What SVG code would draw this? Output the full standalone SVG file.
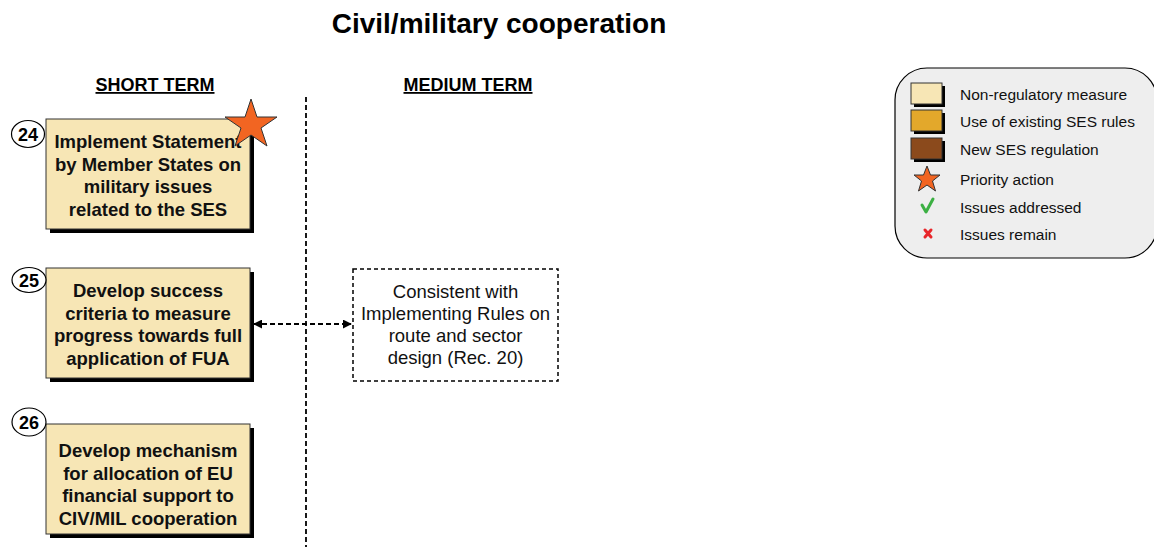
<svg xmlns="http://www.w3.org/2000/svg" width="1154" height="547" viewBox="0 0 1154 547">
<style>
.title{font-family:"Liberation Sans",Arial,sans-serif;font-weight:bold;font-size:28px;fill:#000}
.head{font-family:"Liberation Sans",Arial,sans-serif;font-weight:bold;font-size:18px;fill:#000;text-decoration:underline}
.bt{font-family:"Liberation Sans",Arial,sans-serif;font-weight:bold;font-size:18.5px;fill:#111;text-anchor:middle}
.dt{font-family:"Liberation Sans",Arial,sans-serif;font-size:18.5px;fill:#111;text-anchor:middle}
.num{font-family:"Liberation Sans",Arial,sans-serif;font-weight:bold;font-size:18px;fill:#000;text-anchor:middle}
.lt{font-family:"Liberation Sans",Arial,sans-serif;font-size:15.5px;fill:#111}
.box{fill:#f7e6b5;stroke:#333;stroke-width:1}
.shadow{fill:#000}
.circ{fill:#fff;stroke:#000;stroke-width:1.2}
.star{fill:#f26522;stroke:#333;stroke-width:1}
.dash{fill:none;stroke:#000;stroke-width:1.8;stroke-dasharray:5,3}
</style>
<defs>
<marker id="ah" viewBox="0 0 10 10" refX="9" refY="5" markerWidth="5" markerHeight="5" orient="auto-start-reverse">
<path d="M0,0 L10,5 L0,10 z" fill="#000"/>
</marker>
</defs>

<text class="title" x="499" y="33" text-anchor="middle">Civil/military cooperation</text>
<text class="head" x="155" y="91" text-anchor="middle">SHORT TERM</text>
<text class="head" x="468" y="91" text-anchor="middle">MEDIUM TERM</text>

<g id="connectors">
<line x1="306" y1="97" x2="306" y2="547" class="dash"/>
<line x1="254" y1="324" x2="351" y2="324" class="dash" marker-start="url(#ah)" marker-end="url(#ah)"/>
</g>

<g id="node24">
<rect class="shadow" x="50" y="123" width="204" height="110"/>
<rect class="box" x="46" y="119" width="204" height="110"/>
<text class="bt" x="148" y="148">Implement Statement</text>
<text class="bt" x="148" y="171">by Member States on</text>
<text class="bt" x="148" y="193">military issues</text>
<text class="bt" x="148" y="216">related to the SES</text>
<ellipse class="circ" cx="28" cy="134" rx="16.5" ry="13.5"/>
<text class="num" x="28" y="140.5">24</text>
<polygon class="star" points="251,99 257,117 277,117 261,128 267,146 251,135 235,146 241,128 225,117 245,117"/>
</g>

<g id="node25">
<rect class="shadow" x="50" y="272" width="204" height="110"/>
<rect class="box" x="46" y="268" width="204" height="110"/>
<text class="bt" x="148" y="297">Develop success</text>
<text class="bt" x="148" y="320">criteria to measure</text>
<text class="bt" x="148" y="342">progress towards full</text>
<text class="bt" x="148" y="365">application of FUA</text>
<ellipse class="circ" cx="29" cy="280" rx="17" ry="12.5"/>
<text class="num" x="29" y="286.5">25</text>
</g>

<g id="node26">
<rect class="shadow" x="50" y="428" width="204" height="110"/>
<rect class="box" x="46" y="424" width="204" height="110"/>
<text class="bt" x="148" y="457">Develop mechanism</text>
<text class="bt" x="148" y="480">for allocation of EU</text>
<text class="bt" x="148" y="502">financial support to</text>
<text class="bt" x="148" y="525">CIV/MIL cooperation</text>
<ellipse class="circ" cx="29" cy="422" rx="17" ry="14"/>
<text class="num" x="29" y="428.5">26</text>
</g>

<g id="rec20">
<rect x="353" y="269" width="205" height="112" fill="#fff" stroke="#000" stroke-width="1.5" stroke-dasharray="4,3"/>
<text class="dt" x="455.5" y="298">Consistent with</text>
<text class="dt" x="455.5" y="320">Implementing Rules on</text>
<text class="dt" x="455.5" y="342">route and sector</text>
<text class="dt" x="455.5" y="364">design (Rec. 20)</text>
</g>

<g id="legend">
<rect x="895" y="68" width="262" height="190" rx="32" ry="32" fill="#eeeeee" stroke="#000" stroke-width="1.2"/>
<rect class="shadow" x="914" y="86" width="31" height="21"/>
<rect x="911" y="83" width="31" height="21" fill="#f7e6b5" stroke="#333"/>
<rect class="shadow" x="914" y="113" width="31" height="21"/>
<rect x="911" y="110" width="31" height="21" fill="#e3a82b" stroke="#333"/>
<rect class="shadow" x="914" y="141" width="31" height="21"/>
<rect x="911" y="138" width="31" height="21" fill="#8b4a1c" stroke="#333"/>
<polygon class="star" points="927,166 930.5,175 940,175 932.5,181 935.5,191 927,185 918.5,191 921.5,181 914,175 923.5,175"/>
<path d="M922,205 L926,212 L933,199" fill="none" stroke="#3cb043" stroke-width="3" stroke-linecap="round" stroke-linejoin="round"/>
<path d="M925,230 L931,237 M931,230 L925,237" stroke="#e8262a" stroke-width="3" stroke-linecap="round"/>
<text class="lt" x="960" y="100">Non-regulatory measure</text>
<text class="lt" x="960" y="127">Use of existing SES rules</text>
<text class="lt" x="960" y="155">New SES regulation</text>
<text class="lt" x="960" y="185">Priority action</text>
<text class="lt" x="960" y="213">Issues addressed</text>
<text class="lt" x="960" y="240">Issues remain</text>
</g>
</svg>
